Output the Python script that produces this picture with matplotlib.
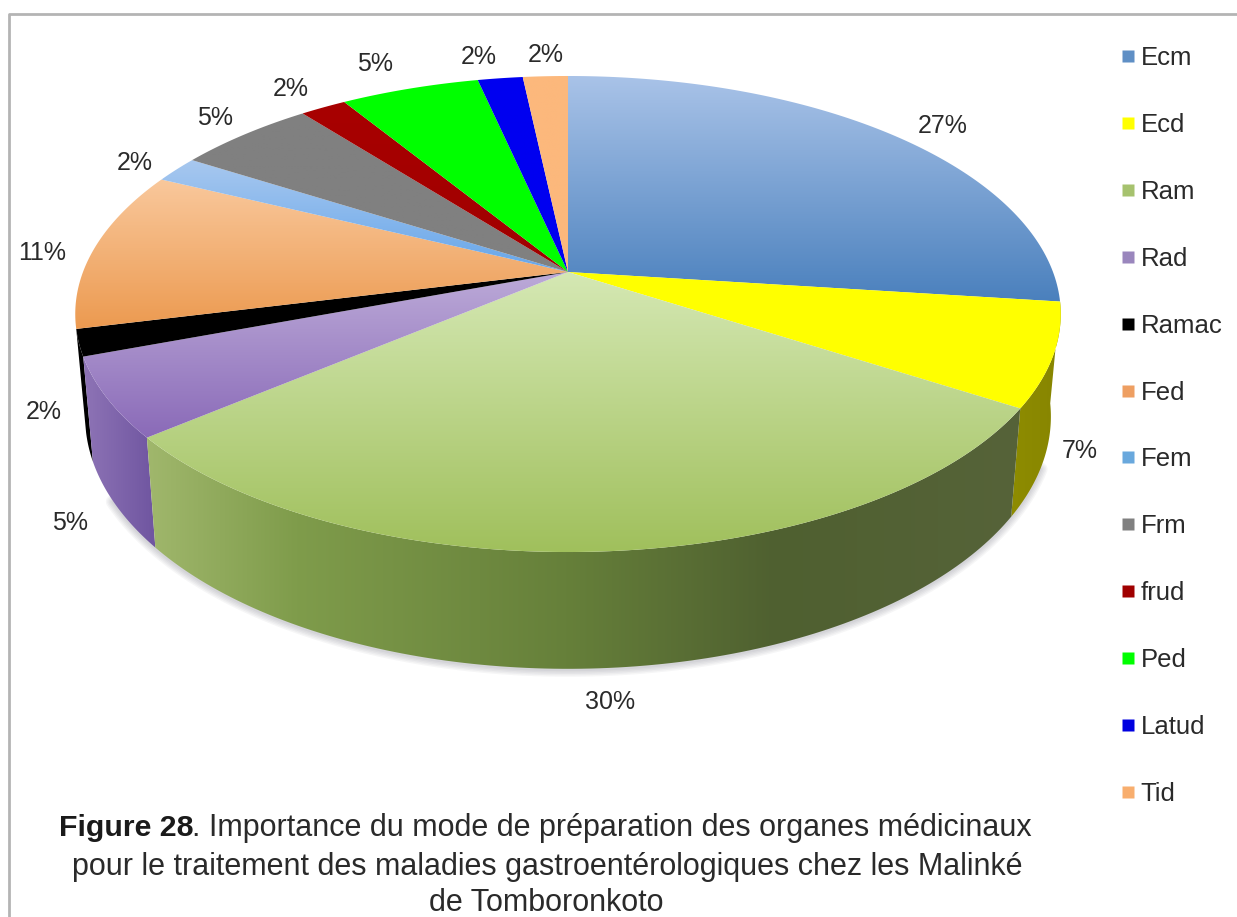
import matplotlib
matplotlib.use('Agg')
import matplotlib.pyplot as plt
from matplotlib.colors import to_rgb
from matplotlib.lines import Line2D
from matplotlib.patches import Polygon
import numpy as np

plt.rcParams['font.family'] = ['Liberation Sans', 'DejaVu Sans']

labels = ['Ecm', 'Ecd', 'Ram', 'Rad', 'Ramac', 'Fed', 'Fem', 'Frm', 'frud', 'Ped', 'Latud', 'Tid']
# printed percentages, and the slice sizes as they measure on the picture
percent_text = [27, 7, 30, 5, 2, 11, 2, 5, 2, 5, 2, 2]
values = [27, 7, 30, 5.4, 1.8, 10.9, 1.8, 5.4, 1.8, 5.4, 1.75, 1.75]

# top face colours (upper, lower)
top_colors = [('#a9c3e8', '#4a80bd'), ('#ffff00', '#ffff00'), ('#d5e8b4', '#a0c05c'),
              ('#bcaad8', '#8a6ab8'), ('#000000', '#000000'), ('#f9c89c', '#ec9a50'),
              ('#a8c8ef', '#66a6ea'), ('#808080', '#808080'), ('#a80000', '#a00000'),
              ('#00ff00', '#00ff00'), ('#0000f0', '#0000f0'), ('#fcb87c', '#fcb87c')]
# side colours, left to right
side_colors = {1: ['#8e8c00', '#878500'],
               2: ['#a0b76c', '#7f9c4b', '#66803a', '#4f6030', '#566339'],
               3: ['#8e74b6', '#6f55a0'],
               4: ['#000000', '#000000']}
side_stops = {2: [0, 0.17, 0.48, 0.72, 1]}
legend_colors = ['#5f8fc5', '#ffff00', '#a6c26e', '#9a86bd', '#000000', '#ee9f62',
                 '#69a8dd', '#808080', '#a00000', '#00ff00', '#0000e0', '#f8ae6e']

# where the percent labels sit, pixels
label_x = [943, 1080, 610, 70, 44, 42, 135, 215, 291, 375, 479, 546]
label_y = [126, 451, 702, 523, 412, 253, 163, 118, 89, 64, 57, 55]

# perspective of the pie, pixels
cx, cy = 568, 272
rx, ry, tilt = 485, 230.6, 0.1765
bottom_cy, bottom_sx, bottom_sy = 372, 0.98, 1.06


def top_xy(frac):
    t = 2 * np.pi * np.asarray(frac)
    u, v = np.sin(t), np.cos(t)
    d = 1 + tilt * v
    return cx + rx * u / d, cy - ry * v / d


def bottom_xy(frac):
    x, y = top_xy(frac)
    return cx + bottom_sx * (x - cx), bottom_cy + bottom_sy * (y - cy)


def fill_gradient(ax, poly, colors, vertical, z, stops=None):
    xs, ys = poly[:, 0], poly[:, 1]
    rgb = np.array([to_rgb(c) for c in colors])
    if stops is None:
        stops = np.linspace(0, 1, len(colors))
    ramp = np.linspace(0, 1, 256)
    img = np.column_stack([np.interp(ramp, stops, rgb[:, k]) for k in range(3)])
    img = img[:, None, :] if vertical else img[None, :, :]
    im = ax.imshow(img, extent=(xs.min(), xs.max(), ys.max(), ys.min()),
                   aspect='auto', interpolation='bilinear', zorder=z)
    patch = Polygon(poly, closed=True, transform=ax.transData, fc='none', ec='none')
    ax.add_patch(patch)
    im.set_clip_path(patch)


fig = plt.figure(figsize=(12.37, 9.17), dpi=100)
ax = fig.add_axes([0, 0, 1, 1])
ax.axis('off')

edges = np.cumsum([0] + values) / sum(values)

# soft shadow round the bottom of the pie
sx, sy = bottom_xy(np.linspace(0.31, 0.67, 200))
for w in range(2, 12, 2):
    ax.plot(sx, sy + 1, color='#505060', lw=w, alpha=0.05, zorder=1, solid_capstyle='round')

# sides
for i, cols in side_colors.items():
    f = np.linspace(edges[i], edges[i + 1], 120)
    tx, ty = top_xy(f)
    bx, by = bottom_xy(f)
    poly = np.column_stack([np.r_[tx, bx[::-1]], np.r_[ty, by[::-1]]])
    # the Ramac side is furthest back, so it goes under Rad
    fill_gradient(ax, poly, cols, False, 2 + (4 - i if i >= 3 else 2), side_stops.get(i))

# top faces
for i in range(len(values)):
    f = np.linspace(edges[i], edges[i + 1], 120)
    tx, ty = top_xy(f)
    poly = np.column_stack([np.r_[cx, tx], np.r_[cy, ty]])
    fill_gradient(ax, poly, top_colors[i], True, 6 + i)

for i in range(len(values)):
    ax.text(label_x[i], label_y[i], '%d%%' % percent_text[i], fontsize=18, color='#2a2a2a',
            ha='center', va='center', zorder=30)

handles = [Line2D([], [], ls='none', marker='s', ms=9, mec='none', mfc=c) for c in legend_colors]
ax.legend(handles, labels, loc='upper left', bbox_to_anchor=(1121, 46), bbox_transform=ax.transData,
          frameon=False, fontsize=18.5, labelspacing=1.67, handlelength=0.55, handletextpad=0.22,
          borderpad=0, borderaxespad=0, labelcolor='#2a2a2a')

# frame
ax.plot([9, 9, 1237], [917, 14, 14], color='#b4b4b4', lw=2, zorder=0)

# caption
ax.text(59, 828, 'Figure 28', fontsize=21.8, fontweight='bold', color='#1a1a1a', va='center', ha='left')
ax.text(192, 828, '. Importance du mode de préparation des organes médicinaux', fontsize=22,
        color='#2a2a2a', va='center', ha='left')
ax.text(547, 867, 'pour le traitement des maladies gastroentérologiques chez les Malinké', fontsize=22,
        color='#2a2a2a', va='center', ha='center')
ax.text(546, 903, 'de Tomboronkoto', fontsize=22, color='#2a2a2a', va='center', ha='center')

ax.set_xlim(0, 1237)
ax.set_ylim(917, 0)
fig.savefig('out.png', dpi=100)
